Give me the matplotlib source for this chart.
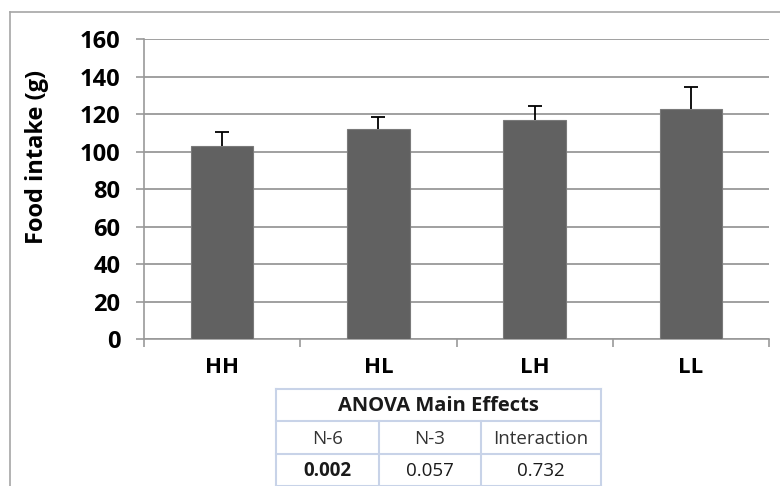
import matplotlib
matplotlib.use("Agg")
import matplotlib.pyplot as plt
from matplotlib.lines import Line2D

plt.rcParams['font.family'] = ['Open Sans', 'DejaVu Sans']

# Food intake per diet group (mean and upper SE)
groups = ["HH", "HL", "LH", "LL"]
intake = [103.4, 112.0, 117.0, 123.0]
intake_err = [7.3, 6.6, 7.3, 11.5]
y_ticks = [0, 20, 40, 60, 80, 100, 120, 140, 160]

# ANOVA summary table
anova_title = "ANOVA Main Effects"
anova_factors = ["N-6", "N-3", "Interaction"]
anova_pvalues = ["0.002", "0.057", "0.732"]
anova_bold = [True, False, False]

W, H = 780, 486
fig = plt.figure(figsize=(W / 100, H / 100), dpi=100)


def fx(px):
    return px / W


def fy(py):
    return 1 - py / H


# outer chart frame
frame_col = "#a6a6a6"
fig.add_artist(Line2D([fx(10), fx(10)], [fy(12), 0], transform=fig.transFigure,
                      color=frame_col, lw=1.2))
fig.add_artist(Line2D([fx(10), 1], [fy(12), fy(12)], transform=fig.transFigure,
                      color=frame_col, lw=1.2))

ax = fig.add_axes([fx(144), fy(339.3), fx(769) - fx(144), fy(39.5) - fy(339.3)])
x = list(range(len(groups)))
ax.bar(x, intake, width=0.4, color="#616161", edgecolor="#7a7a7a", linewidth=0.8,
       zorder=3)
_, caps, _ = ax.errorbar(x, intake, yerr=[[0] * len(intake), intake_err], fmt="none",
                         ecolor="black", elinewidth=1.3, capsize=5, capthick=1.3,
                         zorder=4)
caps[0].set_visible(False)  # plus-only error bars

ax.set_xlim(-0.5, len(groups) - 0.5)
ax.set_ylim(0, 160)
ax.set_yticks(y_ticks)
ax.set_yticklabels([str(v) for v in y_ticks], fontsize=17, fontweight="bold")
ax.yaxis.grid(True, color="#999999", linewidth=1.3, zorder=0)
ax.set_axisbelow(True)

ax.set_xticks([i - 0.5 for i in range(len(groups) + 1)])
ax.set_xticklabels([])
ax.set_xticks(x, minor=True)
ax.set_xticklabels(groups, minor=True, fontsize=16, fontweight="bold")
ax.tick_params(axis="x", which="minor", length=0, pad=13)
ax.tick_params(axis="x", which="major", length=6, width=1.2, color="#999999")
ax.tick_params(axis="y", length=6, width=1.2, color="#999999", pad=11)

for s in ("top", "right"):
    ax.spines[s].set_visible(False)
for s in ("left", "bottom"):
    ax.spines[s].set_color("#999999")
    ax.spines[s].set_linewidth(1.2)

fig.text(fx(37), fy(157), "Food intake (g)", rotation=90, ha="center", va="center",
         fontsize=17, fontweight="bold")

# ANOVA table drawn beneath the axis
tcol = "#c8d3e8"
t_left, t_right = 276, 601
t_rows = [389, 421, 454, 486]
t_cols = [276, 379, 481, 601]
for yy in t_rows:
    fig.add_artist(Line2D([fx(t_left), fx(t_right)], [fy(yy), fy(yy)],
                          transform=fig.transFigure, color=tcol, lw=1.5))
fig.add_artist(Line2D([fx(t_left), fx(t_left)], [fy(t_rows[0]), fy(t_rows[-1])],
                      transform=fig.transFigure, color=tcol, lw=1.5))
fig.add_artist(Line2D([fx(t_right), fx(t_right)], [fy(t_rows[0]), fy(t_rows[-1])],
                      transform=fig.transFigure, color=tcol, lw=1.5))
for xx in t_cols[1:-1]:
    fig.add_artist(Line2D([fx(xx), fx(xx)], [fy(t_rows[1]), fy(t_rows[-1])],
                          transform=fig.transFigure, color=tcol, lw=1.5))

fig.text(fx((t_left + t_right) / 2), fy((t_rows[0] + t_rows[1]) / 2 + 1), anova_title,
         ha="center", va="center", fontsize=14.5, fontweight="bold", color="#1a1a1a")
for i in range(3):
    cx = (t_cols[i] + t_cols[i + 1]) / 2
    fig.text(fx(cx), fy((t_rows[1] + t_rows[2]) / 2 + 1), anova_factors[i],
             ha="center", va="center", fontsize=13.5, color="#333333")
    fig.text(fx(cx), fy((t_rows[2] + t_rows[3]) / 2 + 1), anova_pvalues[i],
             ha="center", va="center", fontsize=13.5,
             fontweight="bold" if anova_bold[i] else "normal", color="#1a1a1a")

fig.savefig("out.png", dpi=100)
